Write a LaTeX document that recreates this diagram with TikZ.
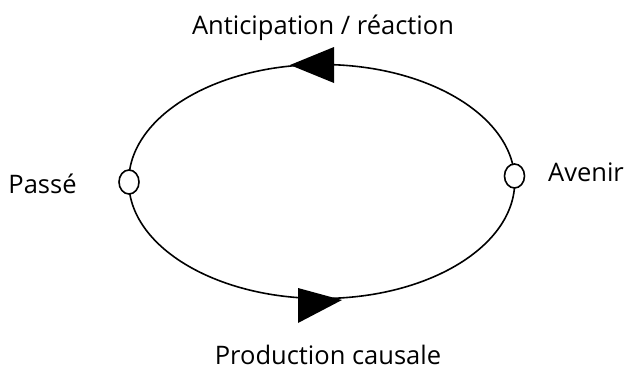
\documentclass[tikz,border=0pt]{standalone}
\usepackage{fontspec}
\setmainfont{Open Sans}
\usetikzlibrary{shapes.geometric}
\begin{document}
\begin{tikzpicture}[x=1pt,y=-1pt,
  lbl/.style={inner sep=0pt,anchor=base,font=\fontsize{25.5}{28}\selectfont},
  port/.style={draw,line width=1.6pt,fill=white,ellipse,minimum width=20pt,minimum height=24pt,inner sep=0pt},
  tri/.style={fill=black}]
\useasboundingbox (0,0) rectangle (630,370);
\draw[line width=1.6pt] (321.75,181.5) ellipse [x radius=193,y radius=117];
\fill[tri] (290,65) -- (334,47) -- (334,83) -- cycle;
\fill[tri] (342,300) -- (298,288) -- (298,323) -- cycle;
\node[port] (passe) at (129,182) {};
\node[port] (avenir) at (514.5,176) {};
\node[lbl] (top) at (323,34) {Anticipation / réaction};
\node[lbl] (ptxt) at (42.5,193) {Passé};
\node[lbl] (atxt) at (586,181) {Avenir};
\node[lbl] (bot) at (328,364) {Production causale};
\end{tikzpicture}
\end{document}
